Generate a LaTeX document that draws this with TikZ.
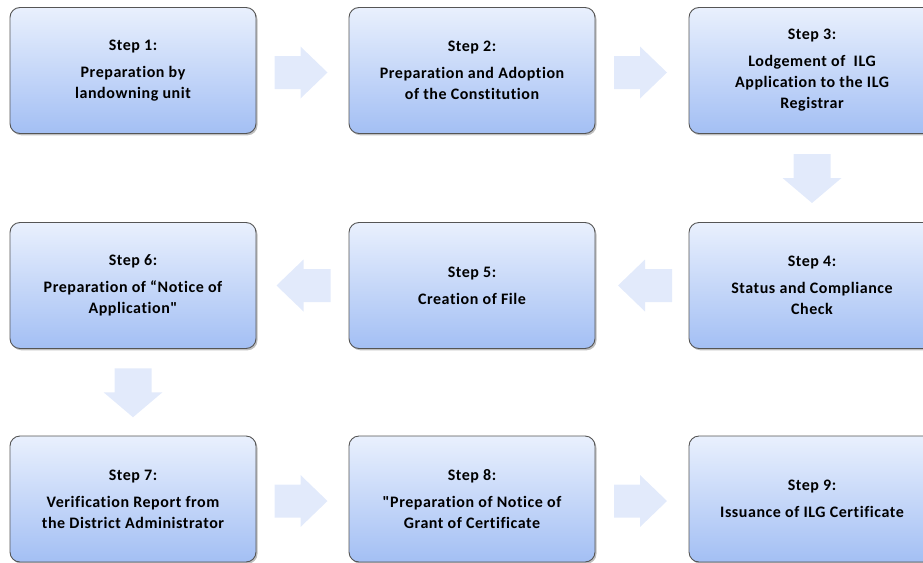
\documentclass[tikz,border=0pt]{standalone}
\usepackage{fontspec}
\setmainfont{Carlito}[Ligatures={TeXOff,NoCommon},LetterSpace=3.5]
\usetikzlibrary{shadows,calc}
\definecolor{boxtop}{RGB}{233,240,253}
\definecolor{boxbot}{RGB}{163,191,244}
\definecolor{boxline}{RGB}{85,85,85}
\definecolor{arrfill}{RGB}{226,234,251}
\tikzset{
  stepbox/.style={rectangle, rounded corners=10pt, draw=boxline, line width=0.9pt,
    top color=boxtop, bottom color=boxbot, minimum width=246pt, minimum height=126pt,
    align=center, font=\fontsize{16}{21}\selectfont\bfseries, text=black,
    drop shadow={shadow xshift=1.5pt, shadow yshift=-1.8pt, fill=black!50}},
  arrowfill/.style={draw=none, fill=arrfill},
  pics/rarrow/.style={code={\fill[arrowfill] (-26,-16.5) -- (0,-16.5) -- (0,-26) -- (27,0) -- (0,26) -- (0,16.5) -- (-26,16.5) -- cycle;}},
  pics/larrow/.style={code={\fill[arrowfill] (27,-16.5) -- (0,-16.5) -- (0,-26) -- (-27,0) -- (0,26) -- (0,16.5) -- (27,16.5) -- cycle;}},
  pics/darrow/.style={code={\fill[arrowfill] (-18.5,-24) -- (-18.5,0) -- (-29.5,0) -- (0,25) -- (29.5,0) -- (18.5,0) -- (18.5,-24) -- cycle;}}
}
\begin{document}
\begin{tikzpicture}[x=1pt,y=-1pt]
\useasboundingbox (0,0) rectangle (923,562);
\node[stepbox] (b1) at (133,70.5) {Step 1:\\[6pt]Preparation by\\landowning unit};
\node[stepbox] (b2) at (472,70.5) {Step 2:\\[6pt]Preparation and Adoption\\of the Constitution};
\node[stepbox] (b3) at (812,70.5) {Step 3:\\[6pt]Lodgement of\ \ ILG\\Application to the ILG\\Registrar};
\node[stepbox] (b4) at (812,285.5) {Step 4:\\[6pt]Status and Compliance\\Check};
\node[stepbox] (b5) at (472,285.5) {Step 5:\\[6pt]Creation of File};
\node[stepbox] (b6) at (133,285.5) {Step 6:\\[6pt]Preparation of “Notice of\\Application"};
\node[stepbox] (b7) at (133,499) {Step 7:\\[6pt]Verification Report from\\the District Administrator};
\node[stepbox] (b8) at (472,499) {Step 8:\\[6pt]"Preparation of Notice of\\Grant of Certificate};
\node[stepbox] (b9) at (812,499) {Step 9:\\[6pt]Issuance of ILG Certificate};
\coordinate (a12) at ($(b1.east)!0.5!(b2.west)+(-2,2)$);
\coordinate (a23) at ($(b2.east)!0.5!(b3.west)+(-2,2)$);
\coordinate (a34) at ($(b3.south)!0.5!(b4.north)$);
\coordinate (a45) at ($(b4.west)!0.5!(b5.east)+(3,0)$);
\coordinate (a56) at ($(b5.west)!0.5!(b6.east)+(1,0)$);
\coordinate (a67) at ($(b6.south)!0.5!(b7.north)$);
\coordinate (a78) at ($(b7.east)!0.5!(b8.west)+(-2,2)$);
\coordinate (a89) at ($(b8.east)!0.5!(b9.west)+(-2,2)$);
\pic at (a12) {rarrow};
\pic at (a23) {rarrow};
\pic at (a34) {darrow};
\pic at (a45) {larrow};
\pic at (a56) {larrow};
\pic at (a67) {darrow};
\pic at (a78) {rarrow};
\pic at (a89) {rarrow};
\end{tikzpicture}
\end{document}
